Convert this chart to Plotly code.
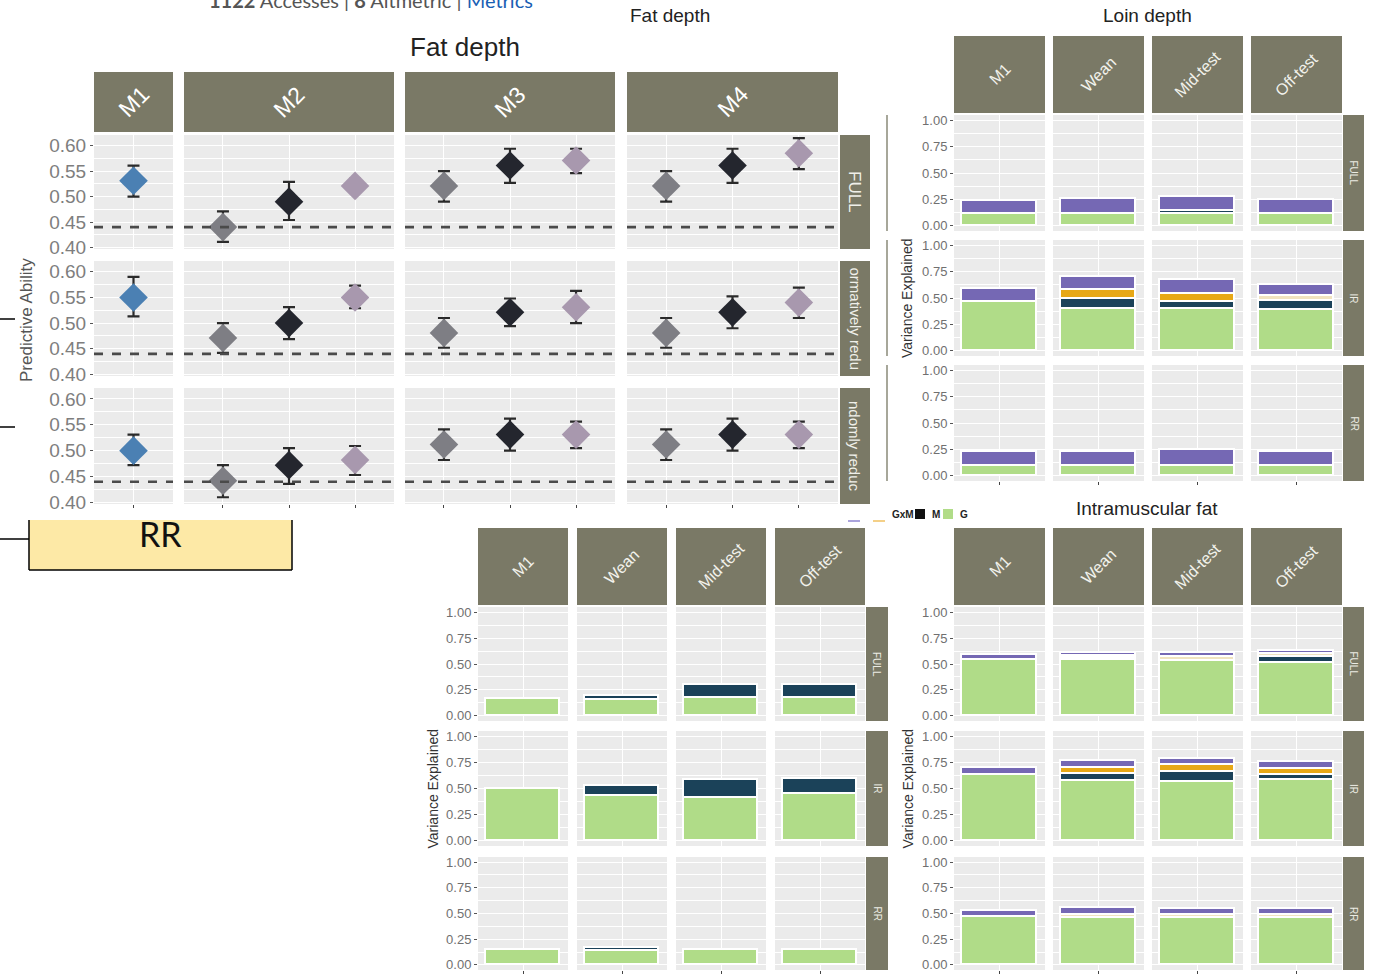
import plotly.graph_objects as go

# ---------------- data ----------------
# Panel A: predictive ability (Fat depth), 10 points per row: M1 | M2 x3 | M3 x3 | M4 x3
pa_models = ["M1", "M2", "M3", "M4"]
pa_rows = ["FULL", "ormatively redu", "ndomly reduc"]
pa_point_model = [0, 1, 1, 1, 2, 2, 2, 3, 3, 3]
pa_point_pos = [1, 1, 2, 3, 1, 2, 3, 1, 2, 3]
pa_point_kind = ["blue", "grey", "black", "pink", "grey", "black", "pink", "grey", "black", "pink"]

pa_full = [0.531, 0.440, 0.490, 0.521, 0.521, 0.561, 0.571, 0.521, 0.561, 0.585]
pa_full_lo = [0.500, 0.411, 0.454, 0.508, 0.490, 0.527, 0.546, 0.490, 0.527, 0.554]
pa_full_hi = [0.561, 0.471, 0.529, 0.535, 0.550, 0.594, 0.594, 0.550, 0.594, 0.615]

pa_ir = [0.550, 0.471, 0.500, 0.550, 0.481, 0.521, 0.531, 0.481, 0.521, 0.540]
pa_ir_lo = [0.513, 0.442, 0.469, 0.529, 0.452, 0.494, 0.500, 0.452, 0.490, 0.510]
pa_ir_hi = [0.590, 0.500, 0.531, 0.573, 0.510, 0.548, 0.563, 0.510, 0.552, 0.569]

pa_rr = [0.500, 0.442, 0.472, 0.482, 0.512, 0.531, 0.531, 0.512, 0.531, 0.531]
pa_rr_lo = [0.472, 0.410, 0.436, 0.453, 0.482, 0.500, 0.505, 0.482, 0.500, 0.505]
pa_rr_hi = [0.531, 0.472, 0.505, 0.509, 0.541, 0.562, 0.556, 0.541, 0.562, 0.556]

pa_baseline = 0.44

# Variance panels: 12 values each, row-major (FULL, IR, RR) x (M1, Wean, Mid-test, Off-test)
bar_cols = ["M1", "Wean", "Mid-test", "Off-test"]
bar_rows = ["FULL", "IR", "RR"]

loin_G = [0.11, 0.11, 0.11, 0.11, 0.465, 0.40, 0.40, 0.385, 0.09, 0.09, 0.09, 0.09]
loin_M = [0, 0, 0.025, 0, 0, 0.09, 0.065, 0.085, 0, 0, 0, 0]
loin_GxM = [0, 0, 0, 0, 0, 0.09, 0.075, 0, 0, 0, 0, 0]
loin_R = [0, 0, 0, 0, 0, 0, 0, 0.045, 0, 0, 0, 0]
loin_E = [0.125, 0.14, 0.135, 0.13, 0.125, 0.12, 0.135, 0.105, 0.135, 0.135, 0.15, 0.135]

fat_G = [0.165, 0.155, 0.175, 0.17, 0.50, 0.425, 0.405, 0.445, 0.14, 0.135, 0.14, 0.14]
fat_M = [0, 0.035, 0.125, 0.13, 0, 0.095, 0.175, 0.145, 0, 0.03, 0, 0]
fat_GxM = [0] * 12
fat_R = [0] * 12
fat_E = [0] * 12

imf_G = [0.54, 0.54, 0.53, 0.51, 0.625, 0.57, 0.56, 0.585, 0.47, 0.46, 0.455, 0.46]
imf_M = [0, 0.02, 0, 0.06, 0, 0.07, 0.10, 0.045, 0, 0, 0, 0]
imf_GxM = [0, 0, 0, 0, 0, 0.055, 0.065, 0.055, 0, 0, 0, 0]
imf_R = [0, 0.02, 0.04, 0.025, 0, 0, 0, 0, 0, 0.025, 0.03, 0.025]
imf_E = [0.045, 0.03, 0.035, 0.035, 0.07, 0.07, 0.055, 0.065, 0.05, 0.07, 0.055, 0.06]

comp_names = ["G", "M", "GxM", "R", "E"]

# ---------------- style ----------------
W, H = 1383, 980
FONT = "Liberation Sans"
STRIP = "#7a7966"
BG = "#ebebeb"
PT_COLORS = {"blue": "#4b80b3", "grey": "#7e7e84", "black": "#24262e", "pink": "#a898ae"}
COMP_COLORS = {"G": "#b0dc88", "M": "#1b4259", "GxM": "#e7a816", "R": "#f0e3bf", "E": "#7568b4"}


def fx(p):
    return p / W


def fy(p):
    return 1 - p / H


fig = go.Figure()
lay = {}
shapes = []
ann = []
n_ax = [0]


def add_axes(xpx, ypx, xr, yr, tick0, dtick, minor, show_ylab, show_xticks, xtickvals, yfont):
    n_ax[0] += 1
    n = n_ax[0]
    s = "" if n == 1 else str(n)
    lay["xaxis" + s] = dict(
        domain=[fx(xpx[0]), fx(xpx[1])], range=xr, anchor="y" + s, automargin=False,
        showgrid=True, gridcolor="white", gridwidth=1.2, zeroline=False, showline=False,
        tickmode="array", tickvals=xtickvals, ticktext=[""] * len(xtickvals), showticklabels=False,
        ticks="outside" if show_xticks else "", ticklen=3, tickcolor="#444", tickwidth=1,
        fixedrange=True,
    )
    lay["yaxis" + s] = dict(
        domain=[fy(ypx[1]), fy(ypx[0])], range=yr, anchor="x" + s, automargin=False,
        showgrid=True, gridcolor="white", gridwidth=1.2, zeroline=False, showline=False,
        tickmode="linear", tick0=tick0, dtick=dtick, tickformat=".2f",
        showticklabels=show_ylab, ticks="outside" if show_ylab else "",
        ticklen=3, tickcolor="#555", tickwidth=1, tickfont=yfont,
        minor=dict(tick0=tick0, dtick=minor, showgrid=True, gridcolor="white", gridwidth=0.6, ticks=""),
        fixedrange=True,
    )
    return "x" + s, "y" + s


def strip_rect(x0, y0, x1, y1):
    shapes.append(dict(type="rect", xref="paper", yref="paper", x0=fx(x0), x1=fx(x1),
                       y0=fy(y1), y1=fy(y0), fillcolor=STRIP, line=dict(width=0), layer="above"))


def text(x, y, t, size, color="#222", angle=0, xanchor="center", yanchor="middle", family=FONT):
    ann.append(dict(x=fx(x), y=fy(y), xref="paper", yref="paper", text=t, showarrow=False,
                    textangle=angle, xanchor=xanchor, yanchor=yanchor,
                    font=dict(size=size, color=color, family=family)))


def line(x0, y0, x1, y1, color="black", width=1.5):
    shapes.append(dict(type="line", xref="paper", yref="paper", x0=fx(x0), x1=fx(x1),
                       y0=fy(y0), y1=fy(y1), line=dict(color=color, width=width)))


# ---------------- Panel A ----------------
A_cols = [(94, 173), (184, 394), (405, 615), (627, 838)]
A_rows = [(135, 249), (261, 376), (388, 504)]
A_yr = [0.397, 0.621]
pa_data = [(pa_full, pa_full_lo, pa_full_hi), (pa_ir, pa_ir_lo, pa_ir_hi), (pa_rr, pa_rr_lo, pa_rr_hi)]
a_tickfont = dict(size=19, color="#7e7e7e", family=FONT)

for r, (vals, lo, hi) in enumerate(pa_data):
    for c, m in enumerate(pa_models):
        idx = [i for i, mm in enumerate(pa_point_model) if mm == c]
        npts = len(idx)
        xr = [0.4, 1.6] if npts == 1 else [0.41, 3.59]
        xa, ya = add_axes(A_cols[c], A_rows[r], xr, A_yr, 0.40, 0.05, 0.025,
                          c == 0, r == 2, [pa_point_pos[i] for i in idx], a_tickfont)
        fig.add_trace(go.Scatter(
            x=[pa_point_pos[i] for i in idx], y=[vals[i] for i in idx], xaxis=xa, yaxis=ya,
            mode="markers", showlegend=False,
            marker=dict(symbol="diamond", size=22, color=[PT_COLORS[pa_point_kind[i]] for i in idx],
                        line=dict(width=0)),
            error_y=dict(type="data", symmetric=False,
                         array=[hi[i] - vals[i] for i in idx],
                         arrayminus=[vals[i] - lo[i] for i in idx],
                         color="#2a2a2a", thickness=2.2, width=6),
        ))
        shapes.append(dict(type="line", xref=xa + " domain", yref=ya, x0=0, x1=1,
                           y0=pa_baseline, y1=pa_baseline, layer="above",
                           line=dict(color="#4a4a4a", width=2.6, dash="dash")))
        if r == 0:
            strip_rect(A_cols[c][0], 72, A_cols[c][1], 132)
            text((A_cols[c][0] + A_cols[c][1]) / 2, 102, m, 23, "white", -45)
    strip_rect(840, A_rows[r][0], 870, A_rows[r][1])
    text(855, (A_rows[r][0] + A_rows[r][1]) / 2, pa_rows[r], 15 if r else 17, "#f0f0ea", 90)

text(465, 47, "Fat depth", 26, "#222")
text(27, 320, "Predictive Ability", 17, "#555", -90)


# ---------------- Variance panels ----------------
def var_panel(cols, rows, strip_y, right_x, comps, ytitle_x, title, title_pos):
    v_font = dict(size=13, color="#707070", family=FONT)
    for r in range(3):
        for c in range(4):
            xa, ya = add_axes(cols[c], rows[r], [0.45, 1.55], [-0.05, 1.05], 0, 0.25, 0.125,
                              c == 0, r == 2, [1], v_font)
            k = r * 4 + c
            for name in comp_names:
                v = comps[name][k]
                fig.add_trace(go.Bar(
                    x=[1], y=[v if v > 0 else None], xaxis=xa, yaxis=ya, width=0.9, name=name,
                    showlegend=False,
                    marker=dict(color=COMP_COLORS[name], line=dict(color="white", width=1.8)),
                ))
            if r == 0:
                strip_rect(cols[c][0], strip_y[0], cols[c][1], strip_y[1])
                text((cols[c][0] + cols[c][1]) / 2, (strip_y[0] + strip_y[1]) / 2,
                     bar_cols[c], 16, "#f2f2ec", -45)
        strip_rect(right_x[0], rows[r][0], right_x[1], rows[r][1])
        text((right_x[0] + right_x[1]) / 2, (rows[r][0] + rows[r][1]) / 2, bar_rows[r], 10, "#ecece4", 90)
    text(ytitle_x, (rows[0][0] + rows[2][1]) / 2, "Variance Explained", 14, "#333", -90)
    text(title_pos[0], title_pos[1], title, 19, "#222")


BD_cols = [(954, 1045), (1053, 1144), (1152, 1243), (1251, 1342)]
C_cols = [(478, 568), (577, 667), (676, 766), (775, 865)]
B_rows = [(115, 231), (240, 356), (365, 481)]
CD_rows = [(607, 721), (731, 846), (857, 970)]

var_panel(BD_cols, B_rows, (36, 113), (1343, 1364),
          dict(G=loin_G, M=loin_M, GxM=loin_GxM, R=loin_R, E=loin_E), 907, "Loin depth", (1147, 16))
var_panel(C_cols, CD_rows, (528, 605), (866, 888),
          dict(G=fat_G, M=fat_M, GxM=fat_GxM, R=fat_R, E=fat_E), 432, "Fat depth", (670, 16))
var_panel(BD_cols, CD_rows, (528, 605), (1343, 1364),
          dict(G=imf_G, M=imf_M, GxM=imf_GxM, R=imf_R, E=imf_E), 907, "Intramuscular fat", (1147, 508))

# partial strips / lines at the left of the right-hand panels
for (y0, y1) in B_rows:
    line(887, y0, 887, y1, color="#8a8a78", width=1.5)
for (y0, y1) in CD_rows:
    strip_rect(880, y0, 888, y1)

# partial legend
text(890, 514, "<b>GxM</b>", 10, "#222", xanchor="left")
shapes.append(dict(type="rect", xref="paper", yref="paper", x0=fx(915), x1=fx(925), y0=fy(519), y1=fy(509),
                   fillcolor="#111111", line=dict(width=0)))
text(930, 514, "<b>M</b>", 10, "#222", xanchor="left")
shapes.append(dict(type="rect", xref="paper", yref="paper", x0=fx(943), x1=fx(953), y0=fy(519), y1=fy(509),
                   fillcolor=COMP_COLORS["G"], line=dict(width=0)))
text(958, 514, "<b>G</b>", 10, "#222", xanchor="left")
line(848, 521, 860, 521, color="#8f86d0", width=1.5)
line(873, 521, 885, 521, color="#f0c060", width=1.5)

# ---------------- decorations ----------------
line(0, 319, 15, 319)
line(0, 427, 15, 427)
line(0, 539, 29, 539)
shapes.append(dict(type="rect", xref="paper", yref="paper", x0=fx(29), x1=fx(292), y0=fy(570), y1=fy(520),
                   fillcolor="#fde9a6", line=dict(width=0)))
line(29, 520, 29, 570)
line(292, 520, 292, 570)
line(29, 570, 292, 570)
text(160, 533, "RR", 34, "#111", family="Lato")

text(207, 0, "<b>1122</b> Accesses | <b>8</b> Altmetric | <span style='color:#1a5fb4'>Metrics</span>",
     20, "#555", xanchor="left", family="Lato")

fig.update_layout(
    width=W, height=H, autosize=False,
    margin=dict(l=0, r=0, t=0, b=0, pad=0, autoexpand=False),
    paper_bgcolor="white", plot_bgcolor=BG,
    barmode="stack", bargap=0,
    shapes=shapes, annotations=ann,
    font=dict(family=FONT),
    **lay,
)

fig.write_html("out.html", config={"displayModeBar": False},
               post_script="document.body.style.margin='0';document.body.style.overflow='hidden';")
